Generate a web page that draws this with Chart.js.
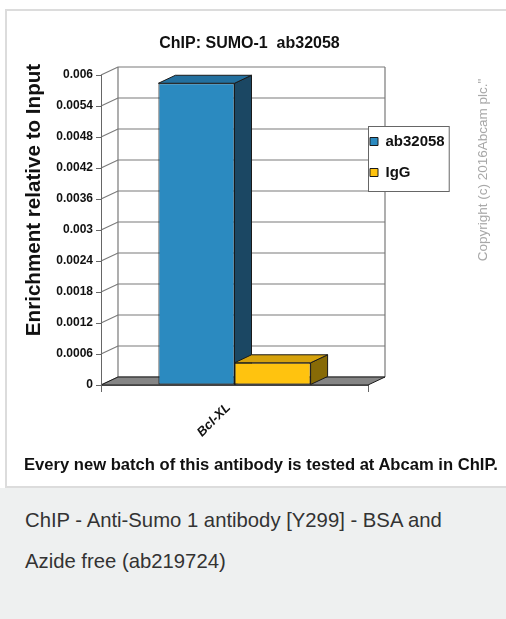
<!DOCTYPE html>
<html>
<head>
<meta charset="utf-8">
<script src="https://cdn.jsdelivr.net/npm/chart.js@4.4.1/dist/chart.umd.min.js"></script>
<style>
  html, body { margin: 0; padding: 0; }
  body {
    width: 506px; height: 619px; position: relative; overflow: hidden;
    background: #fff; font-family: "Liberation Sans", Arial, sans-serif;
  }
  .card {
    position: absolute; left: 5px; top: 9px; width: 520px; height: 475px;
    border: 2px solid #dcdcdc; background: #fff;
  }
  .panel {
    position: absolute; left: 0; top: 488px; width: 506px; height: 131px;
    background: #eef0f0;
  }
  #wrap { position: absolute; left: 7px; top: 11px; width: 499px; height: 475px; }
  .titulo {
    position: absolute; left: 0; top: 33px; width: 499px; line-height: 20px;
    text-align: center; font-weight: bold; font-size: 16px; color: #111; white-space: pre;
  }
  .ytitulo {
    position: absolute; left: -117px; top: 188px; width: 300px; height: 24px; line-height: 24px;
    text-align: center; transform: rotate(-90deg); font-weight: bold; font-size: 20.6px;
    color: #111; white-space: nowrap;
  }
  .copy {
    position: absolute; left: 373px; top: 162px; width: 220px; height: 16px; line-height: 16px;
    text-align: center; transform: rotate(-90deg); font-size: 13.5px; color: #a8a8a8;
    white-space: nowrap;
  }
  .nota {
    position: absolute; left: 24px; top: 455px; line-height: 20px;
    font-weight: bold; font-size: 16.6px; color: #111; white-space: nowrap;
  }
  .caption {
    position: absolute; left: 25px; top: 500px; width: 475px; line-height: 41px;
    font-size: 20.3px; color: #333;
  }
</style>
</head>
<body>
<div class="card"></div>
<div class="panel"></div>
<div id="wrap"><canvas id="chart" width="499" height="475"></canvas></div>
<div class="titulo">ChIP: SUMO-1  ab32058</div>
<div class="ytitulo">Enrichment relative to Input</div>
<div class="copy">Copyright (c) 2016Abcam plc."</div>
<div class="nota">Every new batch of this antibody is tested at Abcam in ChIP.</div>
<div class="caption">ChIP - Anti-Sumo 1 antibody [Y299] - BSA and<br>Azide free (ab219724)</div>

<script>
// ── Datos ────────────────────────────────────────────────────────
const categorias  = ["Bcl-XL"];
const seriesNames = ["ab32058", "IgG"];
const valAb       = [0.00584];
const valIgG      = [0.00043];
const yTicks      = [0, 0.0006, 0.0012, 0.0018, 0.0024, 0.003, 0.0036, 0.0042, 0.0048, 0.0054, 0.006];
const yTickLabels = ["0", "0.0006", "0.0012", "0.0018", "0.0024", "0.003", "0.0036", "0.0042", "0.0048", "0.0054", "0.006"];

// ── Colores (frente / lado / tapa) ───────────────────────────────
const FRONT = ["#2b8ac0", "#ffc30f"];
const SIDE  = ["#1b4763", "#876a06"];
const TOP   = ["#23709f", "#d6a20c"];

const FONT = "'Liberation Sans', Arial, sans-serif";
const DX = 17, DY = -8;           // profundidad 3D
const LEGEND_X = 347, LEGEND_Y = 107;

function poly(ctx, pts, fill) {
  ctx.beginPath();
  ctx.moveTo(pts[0][0], pts[0][1]);
  pts.slice(1).forEach(p => ctx.lineTo(p[0], p[1]));
  ctx.closePath();
  ctx.fillStyle = fill;
  ctx.fill();
  ctx.strokeStyle = "#1a1a1a";
  ctx.lineWidth = 1;
  ctx.stroke();
}

// ── Plugin: pared, piso y caras 3D ───────────────────────────────
const caja3D = {
  id: "caja3D",
  afterLayout(chart) {
    const lg = chart.legend;
    lg.left = LEGEND_X; lg.right = lg.left + lg.width;
    lg.top = LEGEND_Y;  lg.bottom = lg.top + lg.height;
  },
  beforeDraw(chart) {
    const { ctx, chartArea: a, scales: { y } } = chart;
    ctx.save();

    // lineas de la pared de fondo
    ctx.strokeStyle = "#7a7a7a";
    ctx.lineWidth = 1.2;
    y.ticks.forEach(t => {
      const py = y.getPixelForValue(t.value);
      ctx.beginPath();
      ctx.moveTo(a.left, py);
      ctx.lineTo(a.left + DX, py + DY);
      ctx.lineTo(a.right + DX, py + DY);
      ctx.stroke();
    });
    ctx.beginPath();
    ctx.moveTo(a.left + DX, a.top + DY);  ctx.lineTo(a.left + DX, a.bottom + DY);
    ctx.moveTo(a.right + DX, a.top + DY); ctx.lineTo(a.right + DX, a.bottom + DY);
    ctx.stroke();

    // piso
    poly(ctx, [[a.left, a.bottom], [a.right, a.bottom], [a.right + DX, a.bottom + DY], [a.left + DX, a.bottom + DY]], "#858585");

    // caja de la leyenda
    const hb = chart.legend.legendHitBoxes;
    if (hb && hb.length) {
      const l = hb[0].left - 2;
      const t = hb[0].top - 8;
      const r = Math.max(...hb.map(h => h.left + h.width)) + 4;
      const b = hb[hb.length - 1].top + hb[hb.length - 1].height + 11;
      ctx.fillStyle = "#fff";
      ctx.fillRect(l, t, r - l, b - t);
      ctx.strokeStyle = "#666";
      ctx.lineWidth = 1;
      ctx.strokeRect(l + 0.5, t + 0.5, r - l, b - t);
    }
    ctx.restore();
  },
  beforeDatasetsDraw(chart) {
    const ctx = chart.ctx;
    ctx.save();
    chart.data.datasets.forEach((ds, i) => {
      chart.getDatasetMeta(i).data.forEach(bar => {
        const { x, y, base, width } = bar.getProps(["x", "y", "base", "width"], true);
        const l = x - width / 2, r = x + width / 2;
        poly(ctx, [[r, y], [r + DX, y + DY], [r + DX, base + DY], [r, base]], SIDE[i]);
        poly(ctx, [[l, y], [l + DX, y + DY], [r + DX, y + DY], [r, y]], TOP[i]);
      });
    });
    ctx.restore();
  }
};

// ── Chart ────────────────────────────────────────────────────────
new Chart(document.getElementById("chart"), {
  type: "bar",
  data: {
    labels: categorias,
    datasets: [
      { label: seriesNames[0], data: valAb,  backgroundColor: FRONT[0], borderColor: "#1a1a1a", borderWidth: 1, borderSkipped: false },
      { label: seriesNames[1], data: valIgG, backgroundColor: FRONT[1], borderColor: "#1a1a1a", borderWidth: 1, borderSkipped: false },
    ]
  },
  options: {
    responsive: false,
    animation: false,
    events: [],
    layout: { padding: { top: 64, left: 0, right: 48, bottom: 0 } },
    datasets: { bar: { barPercentage: 1, categoryPercentage: 0.57 } },
    plugins: {
      title: { display: false },
      tooltip: { enabled: false },
      legend: {
        position: "right",
        align: "start",
        maxWidth: 90,
        labels: { boxWidth: 8, boxHeight: 8, padding: 16, color: "#111", font: { family: FONT, size: 15, weight: "bold" } }
      }
    },
    scales: {
      x: {
        afterFit: s => { s.height = 101; },
        grid: { offset: true, drawOnChartArea: false, tickLength: 7, color: "#666" },
        border: { color: "#444" },
        ticks: { minRotation: 45, maxRotation: 45, autoSkip: false, padding: 8, labelOffset: -6, color: "#111",
                 font: { family: FONT, size: 13, weight: "bold", style: "italic" } }
      },
      y: {
        min: 0, max: 0.006,
        afterFit: s => { s.width = 94; },
        afterBuildTicks: s => { s.ticks = yTicks.map(v => ({ value: v })); },
        grid: { drawOnChartArea: false, tickLength: 5, color: "#666" },
        border: { color: "#666" },
        ticks: { padding: 3, color: "#111", font: { family: FONT, size: 12, weight: "bold" },
                 callback: (v, i) => yTickLabels[i] }
      }
    }
  },
  plugins: [caja3D]
});
</script>
</body>
</html>
